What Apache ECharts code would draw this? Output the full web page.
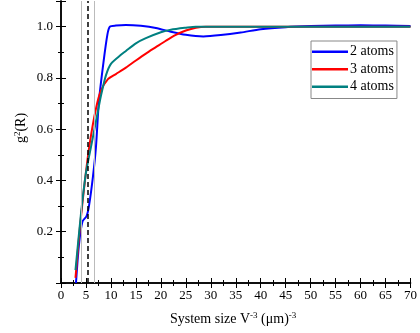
<!DOCTYPE html>
<html><head><meta charset="utf-8">
<script src="https://cdn.jsdelivr.net/npm/echarts@6/dist/echarts.min.js"></script>
<style>html,body{margin:0;padding:0;background:#fff}#c{width:420px;height:333px}</style>
</head><body><div id="c"></div>
<script>
const seriesNames = ['2 atoms', '3 atoms', '4 atoms'];
const seriesColors = ['#0000ff', '#ff0000', '#008080'];
const atoms2 = [[3.0,0.0],[3.6,0.15],[4.3,0.24],[5.1,0.26],[5.6,0.30],[6.4,0.415],[7.0,0.53],[7.6,0.71],[8.5,0.86],[9.3,0.97],[9.8,1.0],[11,1.004],[13,1.006],[16,1.003],[19,0.995],[22,0.98],[25,0.968],[28.5,0.962],[32,0.967],[36,0.977],[40,0.99],[45,0.998],[50,1.002],[55,1.004],[60,1.005],[65,1.004],[70,1.002]];
const atoms3 = [[2.9,0.02],[3.8,0.22],[4.8,0.40],[5.8,0.55],[7.0,0.68],[8.0,0.75],[9.4,0.795],[11,0.815],[13,0.84],[15,0.868],[17,0.895],[19,0.92],[21,0.945],[23,0.968],[25,0.985],[27,0.996],[29,1.0],[35,1.0],[40,1.0],[50,1.0],[60,1.0],[70,1.0]];
const atoms4 = [[2.9,0.05],[4.0,0.27],[5.0,0.43],[6.0,0.53],[7.0,0.63],[8.0,0.73],[9.0,0.81],[10.0,0.855],[12,0.89],[13,0.905],[15,0.935],[17,0.955],[20,0.978],[22,0.988],[25,0.996],[27,1.0],[30,1.0],[40,1.0],[50,1.0],[60,1.0],[70,1.0]];
const grayLines = [4.0, 6.7];
const dashedLine = [5.4];
const yTickLabels = ['0.2','0.4','0.6','0.8','1.0'];

const font = 'Liberation Serif';
const chart = echarts.init(document.getElementById('c'));
const axisLine = {show:true, lineStyle:{color:'#000', width:1.5}};
const tickIn = {show:true, inside:true, length:5, lineStyle:{color:'#000', width:1}};
const minorIn = {show:true, splitNumber:2, length:3, lineStyle:{color:'#000', width:1}};
const dataSets = [atoms2, atoms3, atoms4];
const series = dataSets.map((d,i)=>({
  name: seriesNames[i], type:'line', data:d, smooth:0.25, symbol:'none', showSymbol:false,
  lineStyle:{color:seriesColors[i], width:2}, itemStyle:{color:seriesColors[i]}, z:3
}));
series.push({
  type:'line', data:[], silent:true,
  markLine:{silent:true, symbol:['none','none'], label:{show:false},
    data: grayLines.map(v=>({xAxis:v, lineStyle:{color:'#bbbbbb', width:1, type:'solid'}}))
      .concat(dashedLine.map(v=>({xAxis:v, lineStyle:{color:'#000', width:1.5, type:[5,3]}})))
  }
});
chart.setOption({
  animation:false,
  grid:{left:61, right:8, top:1, bottom:50},
  legend:{
    data:seriesNames, orient:'vertical', left:311, top:41,
    icon:'rect', itemWidth:36, itemHeight:2.5, itemGap:2,
    borderColor:'#888', borderWidth:1, borderRadius:0, padding:[3,3,4,1],
    textStyle:{fontFamily:font, fontSize:14, color:'#000', lineHeight:15.5, padding:[0,0,0,-3]}
  },
  xAxis:[{
    type:'value', min:0, max:70, interval:5,
    axisLine:axisLine, axisTick:tickIn, minorTick:minorIn, splitLine:{show:false},
    axisLabel:{fontFamily:font, fontSize:13, color:'#000', margin:6}
  },{
    type:'value', min:0, max:70, interval:5, position:'top',
    axisLine:axisLine, axisTick:tickIn, minorTick:minorIn, splitLine:{show:false},
    axisLabel:{show:false}
  }],
  yAxis:[{
    type:'value', min:0, max:1.1, interval:0.2,
    axisLine:axisLine, axisTick:tickIn, minorTick:minorIn, splitLine:{show:false},
    axisLabel:{fontFamily:font, fontSize:13, color:'#000', margin:8,
      formatter:v=>{const s=v.toFixed(1); return yTickLabels.includes(s)?s:'';}}
  },{
    type:'value', min:0, max:1.1, interval:0.2, position:'right',
    axisLine:axisLine, axisTick:tickIn, minorTick:minorIn, splitLine:{show:false},
    axisLabel:{show:false}
  }],
  graphic:[{
    type:'text', left:170, top:311,
    style:{text:'System size V{sup|-3} (μm){sup|-3}', fontFamily:font, fontSize:14, fill:'#000',
      rich:{sup:{fontFamily:font, fontSize:9, verticalAlign:'bottom', padding:[0,0,7,0]}}}
  },{
    type:'text', x:21, y:128, rotation:Math.PI/2,
    style:{text:'g{sup|2}(R)', fontFamily:font, fontSize:14, fill:'#000', align:'center', verticalAlign:'middle',
      rich:{sup:{fontFamily:font, fontSize:9, verticalAlign:'bottom', padding:[0,0,7,0]}}}
  }],
  series:series
});
</script></body></html>
